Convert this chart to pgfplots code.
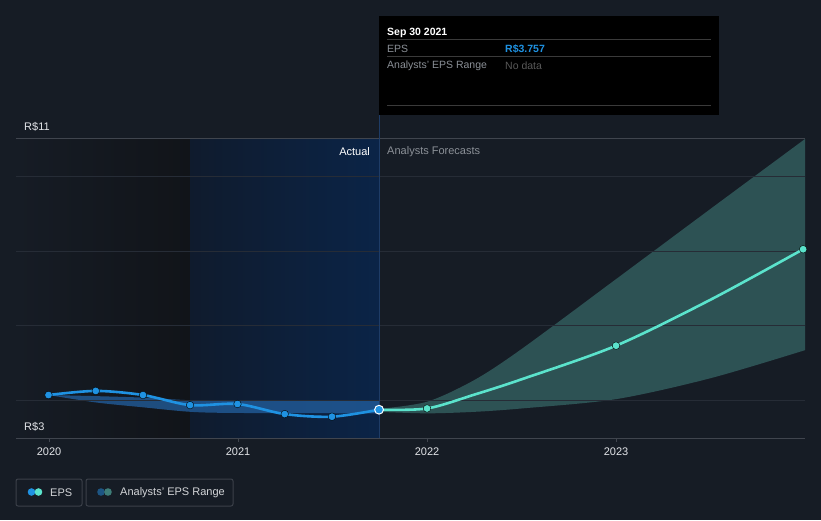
\documentclass[border=0pt]{standalone}
\usepackage{fontspec}
\setmainfont{Liberation Sans}
\usepackage{pgfplots}
\pgfplotsset{compat=1.18}
\usepgfplotslibrary{fillbetween}

\definecolor{bg}{HTML}{161C25}
\definecolor{leftdark}{HTML}{111419}
\definecolor{hlA}{HTML}{0F1B2D}
\definecolor{hlB}{HTML}{0B2447}
\definecolor{gridc}{HTML}{262C36}
\definecolor{axisc}{HTML}{40454E}
\definecolor{vline}{HTML}{1E3C66}
\definecolor{epsblue}{HTML}{1F92E2}
\definecolor{fcteal}{HTML}{5BE3CC}
\definecolor{pastband}{HTML}{2360A0}
\definecolor{fcband}{HTML}{58B4AA}
\definecolor{tickc}{HTML}{E2E4E8}
\definecolor{dimtext}{HTML}{8B9097}
\definecolor{sepc}{HTML}{3A3A3A}
\definecolor{legbox}{HTML}{3B4049}
\definecolor{legdblue}{HTML}{1D5583}
\definecolor{legdteal}{HTML}{3E7D78}

\pgfplotsset{
  layers/mine/.define layer set={
    bgl, axis background, axis grid, axis ticks, axis lines,
    axis tick labels, pre main, main, axis descriptions, axis foreground
  }{},
}

% actual EPS (quarterly)
\pgfplotstableread{
x y
2019.997 4.15
2020.247 4.26
2020.497 4.15
2020.746 3.88
2020.997 3.91
2021.247 3.64
2021.497 3.57
2021.746 3.757
}\actual

% analysts' forecast (data points)
\pgfplotstableread{
x y
2021.746 3.757
2022.0 3.79
2023.0 5.47
2023.99 8.05
}\forecast

% forecast line
\pgfplotstableread{
x y
2021.746 3.757
2022.0 3.79
2022.25 4.16
2022.5 4.57
2023.0 5.47
2023.5 6.70
2023.99 8.05
}\forecastline

% past range band
\pgfplotstableread{
x hi lo
2019.997 4.15 4.15
2020.25 4.12 3.95
2020.5 4.08 3.82
2020.75 4.01 3.70
2021.0 4.00 3.67
2021.746 4.00 3.66
}\pastrange

% forecast range band
\pgfplotstableread{
x hi lo
2021.746 3.78 3.70
2022.0 3.97 3.66
2022.25 4.55 3.70
2022.5 5.38 3.79
2023.0 7.25 4.04
2023.5 9.13 4.60
2024.0 11.0 5.35
}\fcrange

\begin{document}
\begin{tikzpicture}
\begin{axis}[
    at={(16pt,82pt)}, anchor=south west,
    scale only axis, width=789pt, height=299pt,
    xmin=2019.825, xmax=2024, ymin=3, ymax=11,
    set layers=mine, clip=false,
    axis x line*=bottom, axis y line*=left,
    x axis line style={draw=axisc, line width=1pt, -},
    y axis line style={draw=none},
    ytick={4,6,8,10}, yticklabels={}, ytick style={draw=none},
    ymajorgrids, grid style={draw=gridc, line width=1pt},
    xtick={2020,2021,2022,2023}, xticklabels={2020,2021,2022,2023},
    xtick style={draw=axisc, line width=0.8pt},
    xtick align=outside, major tick length=4pt,
    /pgf/number format/assume math mode=true,
    ticklabel style={font=\fontsize{11}{13}\selectfont, text=tickc},
    xticklabel style={yshift=-2pt},
]
\begin{pgfonlayer}{bgl}
  \fill[bg] ([xshift=-16pt, yshift=-82pt]rel axis cs:0,0) rectangle ([xshift=16pt, yshift=139pt]rel axis cs:1,1);
\end{pgfonlayer}
\begin{pgfonlayer}{axis background}
  \shade[left color=bg, right color=leftdark] (axis cs:2019.825,3) rectangle (axis cs:2020.746,11);
  \shade[left color=hlA, right color=hlB] (axis cs:2020.746,3) rectangle (axis cs:2021.746,11);
\end{pgfonlayer}
\draw[axisc, line width=1pt] (axis cs:2019.825,11) -- (axis cs:2024,11);
\draw[vline, line width=1pt] (axis cs:2021.746,3) -- (axis cs:2021.746,11.64);

% past range band
\addplot[draw=none, name path=ph, smooth] table[x=x, y=hi] {\pastrange};
\addplot[draw=none, name path=pl, smooth] table[x=x, y=lo] {\pastrange};
\addplot[fill=pastband, fill opacity=0.75] fill between[of=ph and pl];

% forecast range band
\addplot[draw=none, name path=fh, smooth] table[x=x, y=hi] {\fcrange};
\addplot[draw=none, name path=fl, smooth] table[x=x, y=lo] {\fcrange};
\addplot[fill=fcband, fill opacity=0.36] fill between[of=fh and fl];

% forecast line
\addplot[fcteal, line width=2.6pt, smooth] table[x=x, y=y] {\forecastline};
\addplot[only marks, mark=*, mark size=3.8pt,
         mark options={fill=fcteal, draw=none}] table[x=x, y=y] {\forecast};

% actual line
\addplot[epsblue, line width=2.6pt, smooth] table[x=x, y=y] {\actual};
\addplot[only marks, mark=*, mark size=3.8pt,
         mark options={fill=epsblue, draw=none}] table[x=x, y=y] {\actual};
% latest actual point
\addplot[only marks, mark=*, mark size=4.4pt,
         mark options={fill=epsblue, draw=white, line width=1pt}] coordinates {(2021.746,3.757)};

\node[anchor=west, inner sep=0pt, text=tickc, font=\fontsize{11}{13}\selectfont] at (axis cs:2019.825,11) [xshift=8pt, yshift=12pt] {R\$11};
\node[anchor=west, inner sep=0pt, text=tickc, font=\fontsize{11}{13}\selectfont] at (axis cs:2019.825,3) [xshift=8pt, yshift=11pt] {R\$3};
\node[anchor=east, inner sep=0pt, text=white, font=\fontsize{11}{13}\selectfont] at (axis cs:2021.746,11) [xshift=-9pt, yshift=-12.5pt] {Actual};
\node[anchor=west, inner sep=0pt, text=dimtext, font=\fontsize{11}{13}\selectfont] at (axis cs:2021.746,11) [xshift=8pt, yshift=-12.5pt] {Analysts Forecasts};
\end{axis}

% tooltip
\fill[black] (379pt,405pt) rectangle (719pt,504pt);
\node[anchor=west, text=white, font=\bfseries\fontsize{10.5}{13}\selectfont, inner sep=0pt] at (387pt,487.5pt) {Sep 30 2021};
\draw[sepc, line width=1pt] (387pt,480pt) -- (711pt,480pt);
\node[anchor=west, text=dimtext, font=\fontsize{10.5}{13}\selectfont, inner sep=0pt] at (387pt,471pt) {EPS};
\node[anchor=west, text=epsblue, font=\bfseries\fontsize{10.5}{13}\selectfont, inner sep=0pt] at (505pt,471pt) {R\$3.757};
\draw[sepc, line width=1pt] (387pt,463pt) -- (711pt,463pt);
\node[anchor=west, text=dimtext, font=\fontsize{10.5}{13}\selectfont, inner sep=0pt] at (387pt,454pt) {Analysts' EPS Range};
\node[anchor=west, text=gray!70!black, font=\fontsize{10.5}{13}\selectfont, inner sep=0pt] at (505pt,454pt) {No data};
\draw[sepc, line width=1pt] (387pt,414pt) -- (711pt,414pt);

% legend
\draw[legbox, line width=1pt, rounded corners=2pt] (16pt,14pt) rectangle (82pt,41pt);
\draw[legbox, line width=1pt, rounded corners=2pt] (86pt,14pt) rectangle (233pt,41pt);
\fill[epsblue] (31.5pt,28pt) circle (3.8pt);
\fill[fcteal] (38.5pt,28pt) circle (3.8pt);
\fill[legdblue] (101pt,28pt) circle (3.8pt);
\fill[legdteal] (108pt,28pt) circle (3.8pt);
\node[anchor=west, text=tickc!85!gray, font=\fontsize{11}{13}\selectfont, inner sep=0pt] at (50pt,27.5pt) {EPS};
\node[anchor=west, text=tickc!85!gray, font=\fontsize{11}{13}\selectfont, inner sep=0pt] at (120pt,27.5pt) {Analysts' EPS Range};
\end{tikzpicture}
\end{document}
